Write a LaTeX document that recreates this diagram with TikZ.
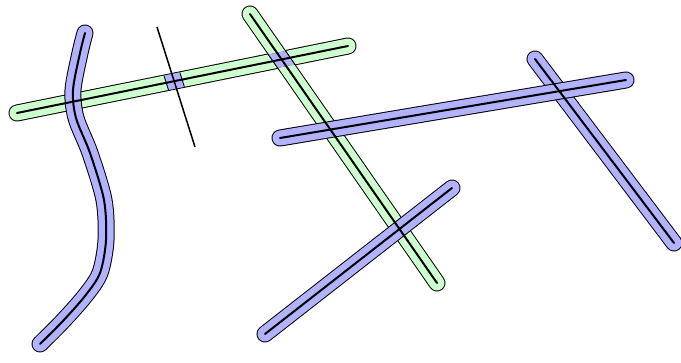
\documentclass[tikz,border=0pt]{standalone}
\usepackage{xcolor}
\usepackage{tikz}
\usetikzlibrary{calc}
\definecolor{roadblue}{RGB}{178,178,255}
\definecolor{roadgreen}{RGB}{206,255,206}
\tikzset{
  roadedge/.style ={draw=black, line width=17pt, line cap=round},
  bluefill/.style ={draw=roadblue, line width=15pt, line cap=round},
  greenfill/.style={draw=roadgreen, line width=15pt, line cap=round},
  mid/.style      ={draw=black, line width=2pt, line cap=round},
  thin/.style     ={draw=black, line width=1.5pt},
}
\begin{document}
\begin{tikzpicture}[x=1pt, y=-1pt]
  \useasboundingbox (0,0) rectangle (681,363);
  % road ends
  \coordinate (h1) at (17,113);  \coordinate (h2) at (348,46);
  \coordinate (d1) at (250,14);  \coordinate (d2) at (437,283);
  \coordinate (t1) at (157,27);  \coordinate (t2) at (195,147);
  \coordinate (r1) at (535,59);  \coordinate (r2) at (674,243);
  \coordinate (l1) at (280,138); \coordinate (l2) at (626,80);
  \coordinate (w1) at (265,334); \coordinate (w2) at (452,188);

  % green roads
  \draw[roadedge]  (h1) -- (h2);
  \draw[greenfill] (h1) -- (h2);
  \draw[roadedge]  (d1) -- (d2);
  \draw[greenfill] (d1) -- (d2);

  % crossings on the green road
  \begin{scope}
    \clip ($(h1)!7.5pt!90:(h2)$) -- ($(h2)!7.5pt!-90:(h1)$)
       -- ($(h2)!7.5pt!90:(h1)$) -- ($(h1)!7.5pt!-90:(h2)$) -- cycle;
    \draw[roadedge] (d1) -- (d2);
    \draw[bluefill] (d1) -- (d2);
    \draw[roadedge] (t1) -- (t2);
    \draw[bluefill] (t1) -- (t2);
  \end{scope}

  % blue roads
  \draw[roadedge] plot[smooth] coordinates {(85,33) (80,53) (73,90) (76,118) (90,153) (104,200) (106,240) (100,273) (85,296) (62,322) (40,344)};
  \draw[bluefill] plot[smooth] coordinates {(85,33) (80,53) (73,90) (76,118) (90,153) (104,200) (106,240) (100,273) (85,296) (62,322) (40,344)};
  \draw[roadedge] (r1) -- (r2);
  \draw[bluefill] (r1) -- (r2);
  \draw[roadedge] (l1) -- (l2);
  \draw[bluefill] (l1) -- (l2);
  \draw[roadedge] (w1) -- (w2);
  \draw[bluefill] (w1) -- (w2);

  % centre lines
  \draw[mid] (h1) -- (h2);
  \draw[mid] (d1) -- (d2);
  \draw[mid] plot[smooth] coordinates {(85,33) (80,53) (73,90) (76,118) (90,153) (104,200) (106,240) (100,273) (85,296) (62,322) (40,344)};
  \draw[mid] (r1) -- (r2);
  \draw[mid] (l1) -- (l2);
  \draw[mid] (w1) -- (w2);
  \draw[thin] (t1) -- (t2);
\end{tikzpicture}
\end{document}
